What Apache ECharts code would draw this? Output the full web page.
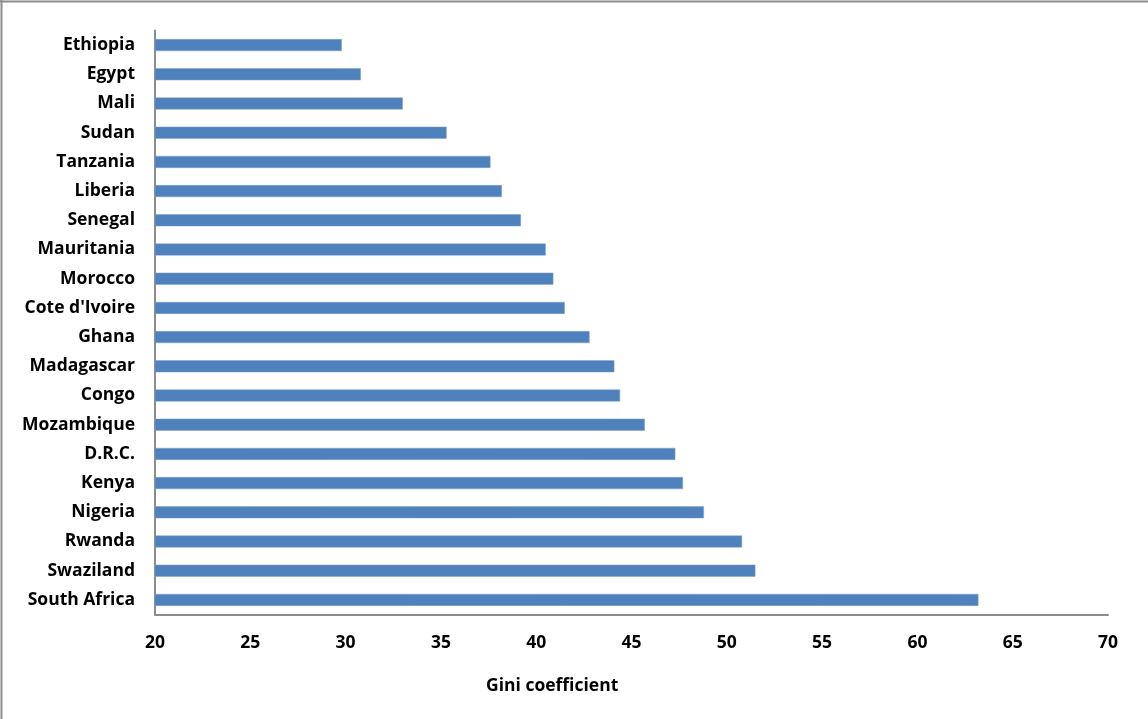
<!DOCTYPE html>
<html>
<head>
<meta charset="utf-8">
<script src="https://cdn.jsdelivr.net/npm/echarts@6/dist/echarts.min.js"></script>
<style>
  html, body { margin: 0; padding: 0; background: #fff; }
  #chart { width: 1148px; height: 719px; }
</style>
</head>
<body>
<div id="chart"></div>
<script>
// Countries listed top to bottom
const countries = [
  'Ethiopia', 'Egypt', 'Mali', 'Sudan', 'Tanzania', 'Liberia', 'Senegal',
  'Mauritania', 'Morocco', "Cote d'Ivoire", 'Ghana', 'Madagascar', 'Congo',
  'Mozambique', 'D.R.C.', 'Kenya', 'Nigeria', 'Rwanda', 'Swaziland', 'South Africa'
];
// Gini coefficient per country
const gini = [
  29.8, 30.8, 33.0, 35.3, 37.6, 38.2, 39.2,
  40.5, 40.9, 41.5, 42.8, 44.1, 44.4,
  45.7, 47.3, 47.7, 48.8, 50.8, 51.5, 63.2
];
const axisTitle = 'Gini coefficient';

const font = "'Open Sans', 'Liberation Sans', sans-serif";
const chart = echarts.init(document.getElementById('chart'), null, { renderer: 'canvas' });

chart.setOption({
  animation: false,
  backgroundColor: '#ffffff',
  grid: { left: 155, right: 40, top: 30.5, bottom: 104.5, containLabel: false },
  xAxis: {
    type: 'value',
    min: 20, max: 70, interval: 5,
    axisLine: { show: true, lineStyle: { color: '#8c8c8c', width: 2 } },
    axisTick: { show: false },
    splitLine: { show: false },
    axisLabel: { color: '#000', fontFamily: font, fontWeight: 'bold', fontSize: 17.5, margin: 20 }
  },
  yAxis: {
    type: 'category',
    inverse: true,
    data: countries,
    axisLine: { show: true, lineStyle: { color: '#8c8c8c', width: 2 } },
    axisTick: { show: false },
    axisLabel: { color: '#000', fontFamily: font, fontWeight: 'bold', fontSize: 17.5, margin: 20 }
  },
  series: [{
    type: 'bar',
    data: gini,
    barWidth: 12,
    itemStyle: { color: '#4f81bd', borderColor: '#7fa3cf', borderWidth: 0.5 }
  }],
  graphic: [
    { type: 'line', shape: { x1: 0, y1: 1.5, x2: 1148, y2: 1.5 }, style: { stroke: '#8c8c8c', lineWidth: 2 } },
    { type: 'line', shape: { x1: 1.5, y1: 0, x2: 1.5, y2: 719 }, style: { stroke: '#8c8c8c', lineWidth: 2 } },
    {
      type: 'text', left: 486, top: 677,
      style: { text: axisTitle, fill: '#000', font: "bold 17.5px 'Open Sans', 'Liberation Sans', sans-serif" }
    }
  ]
});
</script>
</body>
</html>
